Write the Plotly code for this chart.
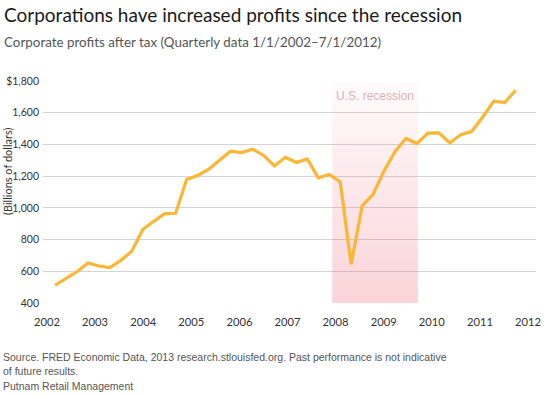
import plotly.graph_objects as go

# Quarterly corporate profits after tax, 2002Q1 .. 2012Q3 (billions of dollars)
quarters = [f"{y}Q{q}" for y in range(2002, 2013) for q in range(1, 5)][:43]
profits = [512, 556, 597, 652, 633, 623, 669, 726, 863, 915, 964, 966,
           1179, 1204, 1242, 1300, 1357, 1349, 1370, 1332, 1264, 1319, 1286, 1309,
           1189, 1211, 1163, 644, 1012, 1086, 1233, 1355, 1437, 1406, 1471,
           1473, 1409, 1462, 1483, 1573, 1673, 1664, 1742]

year_ticks = list(range(2002, 2013))
y_ticks = [400, 600, 800, 1000, 1200, 1400, 1600, 1800]
y_labels = ["400", "600", "800", "1,000", "1,200", "1,400", "1,600", "$1,800"]
recession = [2007.93, 2009.71]
recession_label = "U.S. recession"

W, H = 545, 397
L, R, T, B = 43, 9, 81, 94
PW = W - L - R
PH = H - T - B


def px_x(p):
    return (p - L) / PW


def px_y(p):
    return (H - B - p) / PH


fig = go.Figure()

# recession band with vertical gradient
fig.add_trace(go.Scatter(
    x=[recession[0], recession[1], recession[1], recession[0], recession[0]],
    y=[400, 400, 1790, 1790, 400],
    mode="lines", line=dict(width=0), fill="toself",
    fillgradient=dict(type="vertical", start=400, stop=1790,
                      colorscale=[[0, "rgba(238,110,128,0.30)"],
                                  [1, "rgba(238,110,128,0.03)"]]),
    hoverinfo="skip", showlegend=False, xaxis="x", yaxis="y"))

fig.add_trace(go.Scatter(
    x=list(range(len(profits))), y=profits, mode="lines",
    line=dict(color="#FDB633", width=3.2), text=quarters,
    showlegend=False, xaxis="x2", yaxis="y"))

fig.update_layout(
    width=W, height=H,
    margin=dict(l=L, r=R, t=T, b=B, autoexpand=False),
    paper_bgcolor="white", plot_bgcolor="white",
    font=dict(family="Lato", color="#333"),
    xaxis=dict(range=[2002 - 4 / 48.1, 2012 + 8 / 48.1], tickvals=year_ticks,
               showgrid=False, zeroline=False, showline=False, ticks="",
               automargin=False,
               ticklabelstandoff=11, tickfont=dict(size=11.2, color="#333")),
    xaxis2=dict(range=[-12 / 10.969, 42 + (PW - 472.7) / 10.969], overlaying="x",
                visible=False, automargin=False),
    yaxis=dict(range=[400, 1800], tickvals=y_ticks, ticktext=y_labels,
               showgrid=True, gridcolor="#d4d4d4", gridwidth=1, zeroline=False,
               showline=False, ticks="", ticklabelstandoff=3, automargin=False,
               tickfont=dict(size=10.5, color="#333")),
)

annotations = [
    dict(text="Corporations have increased profits since the recession",
         x=px_x(2), y=px_y(14), xanchor="left", yanchor="middle",
         font=dict(size=19, color="#1a1a1a", family="Lato")),
    dict(text="Corporate profits after tax (Quarterly data 1/1/2002–7/1/2012)",
         x=px_x(2), y=px_y(42), xanchor="left", yanchor="middle",
         font=dict(size=13.4, color="#555", family="Lato")),
    dict(text="(Billions of dollars)", textangle=-90,
         x=px_x(7), y=px_y(172), xanchor="center", yanchor="middle",
         font=dict(size=11, color="#333", family="Lato")),
    dict(text=recession_label, x=(recession[0] + recession[1]) / 2, xref="x",
         y=px_y(96), xanchor="center", yanchor="middle",
         font=dict(size=12, color="#d9b4b9", family="Liberation Sans")),
    dict(text="Source. FRED Economic Data, 2013 research.stlouisfed.org. Past performance is not indicative<br>of future results.",
         x=px_x(1), y=px_y(349), xanchor="left", yanchor="top", align="left",
         font=dict(size=10.5, color="#555", family="Liberation Sans")),
    dict(text="Putnam Retail Management",
         x=px_x(1), y=px_y(386), xanchor="left", yanchor="middle", align="left",
         font=dict(size=10.5, color="#555", family="Liberation Sans")),
]
for a in annotations:
    a.setdefault("xref", "paper")
    a["yref"] = "paper"
    a["showarrow"] = False
    fig.add_annotation(**a)

fig.write_html("out.html", config={"displayModeBar": False},
               post_script="document.body.style.margin='0';document.body.style.padding='0';")
